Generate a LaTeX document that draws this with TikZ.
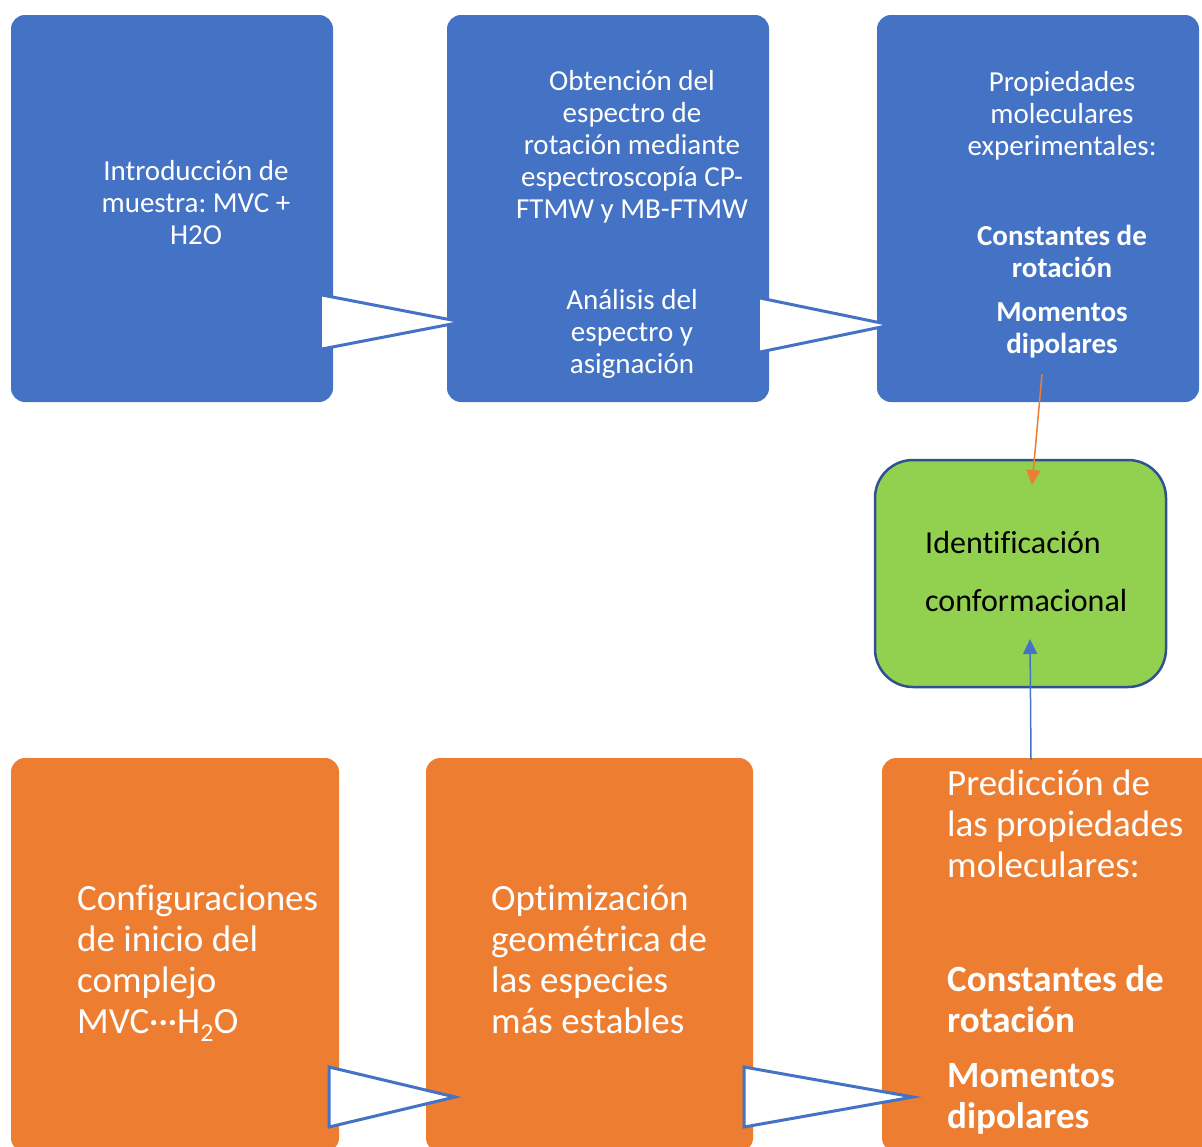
\documentclass[tikz,border=0pt]{standalone}
\usepackage{fontspec}
\setmainfont{Carlito}[Ligatures=CommonOff]
\frenchspacing
\usetikzlibrary{arrows.meta}
\definecolor{accblue}{HTML}{4472C4}
\definecolor{accorange}{HTML}{ED7D31}
\definecolor{accgreen}{HTML}{92D050}
\definecolor{darkedge}{HTML}{2F528F}
\tikzset{
  bluebox/.style={fill=accblue, draw=none, rounded corners=14pt, minimum width=322pt, minimum height=387pt, inner sep=0pt},
  orangebox/.style={fill=accorange, draw=none, rounded corners=14pt, minimum height=394pt, inner sep=0pt},
  greenbox/.style={fill=accgreen, draw=darkedge, line width=2.5pt, rounded corners=38pt, minimum width=291pt, minimum height=227pt, inner sep=0pt},
  bluetxt/.style={text=white, font=\fontsize{29}{32}\selectfont, align=center, inner sep=0pt, anchor=base},
  bluebold/.style={bluetxt, font=\fontsize{29}{32}\selectfont\bfseries},
  orangetxt/.style={text=white, font=\fontsize{37}{41}\selectfont, align=left, inner sep=0pt, anchor=base west},
  orangebold/.style={orangetxt, font=\fontsize{37}{41}\selectfont\bfseries},
  greentxt/.style={text=black, font=\fontsize{32}{58}\selectfont, align=left, inner sep=0pt, anchor=base west},
  flowtri/.style={fill=white, draw=accblue, line width=3pt, line join=miter},
  thinarrow/.style={line width=1.5pt, -{Triangle[length=15pt,width=14pt]}},
}
\begin{document}
\begin{tikzpicture}[x=1pt,y=-1pt]
\useasboundingbox (0,0) rectangle (1202,1146);
\clip (0,0) rectangle (1202,1146);

% experimental branch (top row)
\node[bluebox] (b1) at (172,208.5) {};
\node[bluebox] (b2) at (608,208.5) {};
\node[bluebox] (b3) at (1038,208.5) {};

% theoretical branch (bottom row)
\node[orangebox, minimum width=328pt] (o1) at (175,955) {};
\node[orangebox, minimum width=327pt] (o2) at (589.5,955) {};
\node[orangebox, minimum width=340pt] (o3) at (1052,955) {};

% result
\node[greenbox] (g) at (1020.5,573.5) {};

% block arrows between the steps
\fill[white] (322,295) -- (462,322) -- (322,349) -- cycle;
\draw[accblue, line width=3pt] (322,295) -- (462,322) -- (322,349);
\fill[white] (760,298) -- (891,325) -- (760,352) -- cycle;
\draw[accblue, line width=3pt] (760,298) -- (891,325) -- (760,352);
\draw[flowtri] (329,1067) -- (455,1097) -- (329,1127) -- cycle;
\draw[flowtri] (744,1067) -- (913,1097) -- (744,1127) -- cycle;

% texts of the top row (anchored at the baseline of the last line)
\node[bluetxt] (t1) at (196,244) {Introducción de\\muestra: MVC +\\H2O};
\node[bluetxt] (t2a) at (632,218) {Obtención del\\espectro de\\rotación mediante\\espectroscopía CP-\\FTMW y MB-FTMW};
\node[bluetxt] (t2b) at (632,373) {Análisis del\\espectro y\\asignación};
\node[bluetxt] (t3a) at (1062,155) {Propiedades\\moleculares\\experimentales:};
\node[bluebold] (t3b) at (1062,277) {Constantes de\\rotación};
\node[bluebold] (t3c) at (1062,353) {Momentos\\dipolares};

% texts of the bottom row
\node[orangetxt] (u1) at (77,1033) {Configuraciones\\de inicio del\\complejo\\MVC···H\textsubscript{2}O};
\node[orangetxt] (u2) at (491,1033) {Optimización\\geométrica de\\las especies\\más estables};
\node[orangetxt] (u3a) at (947,877) {Predicción de\\las propiedades\\moleculares:};
\node[orangebold] (u3b) at (947,1032) {Constantes de\\rotación};
\node[orangebold] (u3c) at (947,1128) {Momentos\\dipolares};

% text of the result
\node[greentxt] (gt) at (925,611) {Identificación\\conformacional};

% links to the result
\coordinate (expout) at (1042,374);
\coordinate (expin) at (1032,485);
\coordinate (theout) at (1031,760);
\coordinate (thein) at (1030,639);
\draw[thinarrow, accorange] (expout) -- (expin);
\draw[thinarrow, accblue] (theout) -- (thein);
\end{tikzpicture}
\end{document}
